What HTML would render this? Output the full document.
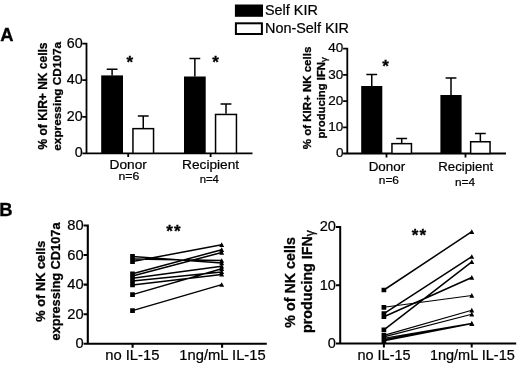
<!DOCTYPE html>
<html><head><meta charset="utf-8">
<style>
html,body{margin:0;padding:0;background:#fff;}
svg{display:block;}
text{font-family:"Liberation Sans",sans-serif;fill:#000;stroke:#000;stroke-width:0.22px;}
.bd{font-weight:bold;stroke-width:0.3px;}
path{stroke:#000;fill:none;}
.sh{stroke:none;fill:#000;}
</style></head><body>
<svg width="520" height="366" viewBox="0 0 520 366">
<rect width="520" height="366" fill="#fff"/>
<rect x="234.9" y="4.5" width="28.1" height="12.3" fill="#000"/>
<rect x="235.9" y="23.3" width="26" height="10.7" fill="#fff" stroke="#000" stroke-width="2"/>
<text x="265" y="14.8" font-size="14.4">Self KIR</text>
<text x="265" y="32.7" font-size="14.4">Non-Self KIR</text>
<text x="0.2" y="40.9" font-size="18.4" class="bd">A</text>
<text x="-0.8" y="216" font-size="18.4" class="bd">B</text>
<path d="M86.5 42.8V153.3H252.5M82.3 43.7H86.5M82.3 80.2H86.5M82.3 116.8H86.5M82.3 153.3H86.5M128.2 153.3V156.9M210.6 153.3V156.9" stroke-width="1.8"/>
<text x="82.6" y="47.7" font-size="14.3" text-anchor="end">60</text>
<text x="82.6" y="84.2" font-size="14.3" text-anchor="end">40</text>
<text x="82.6" y="120.8" font-size="14.3" text-anchor="end">20</text>
<text x="82.6" y="157.3" font-size="14.3" text-anchor="end">0</text>
<rect x="101.2" y="75.4" width="21.8" height="77.9" fill="#000"/>
<path d="M112.1 75.4V69.2M106.7 69.2H117.5" stroke-width="1.5"/>
<rect x="132.95" y="128.65" width="20.6" height="24.65" fill="#fff" stroke="#000" stroke-width="1.5"/>
<path d="M143.25 127.9V115.9M137.85 115.9H148.65" stroke-width="1.5"/>
<rect x="184" y="76.5" width="21.7" height="76.8" fill="#000"/>
<path d="M194.85 76.5V58.4M189.45 58.4H200.25" stroke-width="1.5"/>
<rect x="215.55" y="114.45" width="20.9" height="38.85" fill="#fff" stroke="#000" stroke-width="1.5"/>
<path d="M226 113.7V104M220.6 104H231.4" stroke-width="1.5"/>
<text x="129.8" y="67.6" font-size="17" text-anchor="middle" class="bd">*</text>
<text x="215.5" y="67.6" font-size="17" text-anchor="middle" class="bd">*</text>
<text x="128.25" y="168.6" font-size="13.7" text-anchor="middle">Donor</text>
<text x="210.6" y="168.6" font-size="13.7" text-anchor="middle">Recipient</text>
<text x="118.5" y="180.4" font-size="10" textLength="20.8" lengthAdjust="spacingAndGlyphs">n=6</text>
<text x="199.7" y="183.3" font-size="11" textLength="19.2" lengthAdjust="spacingAndGlyphs">n=4</text>
<text transform="translate(46.7,96) rotate(-90)" font-size="12" text-anchor="middle" class="bd">% of KIR+ NK cells</text>
<text transform="translate(61,96.3) rotate(-90)" font-size="11.8" text-anchor="middle" class="bd">expressing CD107a</text>
<path d="M347.3 47.8V153.5H506M343.1 48.7H347.3M343.1 74.9H347.3M343.1 101.1H347.3M343.1 127.3H347.3M343.1 153.5H347.3M386.5 153.5V157.5M465.5 153.5V157.5" stroke-width="1.8"/>
<text x="343.4" y="52.4" font-size="13.5" text-anchor="end">40</text>
<text x="343.4" y="78.6" font-size="13.5" text-anchor="end">30</text>
<text x="343.4" y="104.8" font-size="13.5" text-anchor="end">20</text>
<text x="343.4" y="131" font-size="13.5" text-anchor="end">10</text>
<text x="343.4" y="157.2" font-size="13.5" text-anchor="end">0</text>
<rect x="361.2" y="86" width="21.1" height="67.5" fill="#000"/>
<path d="M371.75 86V74.5M366.35 74.5H377.15" stroke-width="1.5"/>
<rect x="391.95" y="143.65" width="19.5" height="9.85" fill="#fff" stroke="#000" stroke-width="1.5"/>
<path d="M401.7 142.9V138.5M396.3 138.5H407.1" stroke-width="1.5"/>
<rect x="440.4" y="95" width="21.2" height="58.5" fill="#000"/>
<path d="M451 95V78M445.6 78H456.4" stroke-width="1.5"/>
<rect x="470.65" y="141.75" width="19.4" height="11.75" fill="#fff" stroke="#000" stroke-width="1.5"/>
<path d="M480.35 141V133.5M474.95 133.5H485.75" stroke-width="1.5"/>
<text x="385.6" y="71.9" font-size="17" text-anchor="middle" class="bd">*</text>
<text x="386.9" y="171.4" font-size="13.4" text-anchor="middle">Donor</text>
<text x="465.8" y="171.4" font-size="13.2" text-anchor="middle">Recipient</text>
<text x="378.8" y="183.7" font-size="11" textLength="20.2" lengthAdjust="spacingAndGlyphs">n=6</text>
<text x="455" y="185.7" font-size="10.5" textLength="20" lengthAdjust="spacingAndGlyphs">n=4</text>
<text transform="translate(310.7,98) rotate(-90)" font-size="11.5" text-anchor="middle" class="bd">% of KIR+ NK cells</text>
<text transform="translate(325.3,97.9) rotate(-90)" font-size="11.3" text-anchor="middle" class="bd">producing IFN<tspan font-size="9.5" font-weight="normal" dy="2">γ</tspan></text>
<path d="M87.8 224.45V343.8H266.8M83.6 225.5H87.8M83.6 255.07H87.8M83.6 284.65H87.8M83.6 314.23H87.8M83.6 343.8H87.8M132.6 343.8V347.8M222.1 343.8V347.8" stroke-width="2.1"/>
<text x="83.7" y="230" font-size="14.7" text-anchor="end">80</text>
<text x="83.7" y="259.57" font-size="14.7" text-anchor="end">60</text>
<text x="83.7" y="289.15" font-size="14.7" text-anchor="end">40</text>
<text x="83.7" y="318.73" font-size="14.7" text-anchor="end">20</text>
<text x="83.7" y="348.3" font-size="14.7" text-anchor="end">0</text>
<text x="132.35" y="360.1" font-size="14.8" text-anchor="middle">no IL-15</text>
<text x="222.5" y="360" font-size="14.75" text-anchor="middle">1ng/mL IL-15</text>
<text x="173.9" y="237.4" font-size="17" text-anchor="middle" class="bd" letter-spacing="1">**</text>
<text transform="translate(45.2,281.1) rotate(-90)" font-size="12.8" text-anchor="middle" class="bd">% of NK cells</text>
<text transform="translate(60,281.5) rotate(-90)" font-size="12.8" text-anchor="middle" class="bd">expressing CD107a</text>
<path d="M132.5 310.6L221.7 284.6M132.5 294.6L221.7 268.75M132.5 285L221.7 274.4M132.5 281L221.7 271.9M132.5 278.3L221.7 266.25M132.5 276L221.7 252.5M132.5 273.8L221.7 249.75M132.5 261.6L221.7 244.75M132.5 259L221.7 260.6M132.5 256.4L221.7 263" stroke-width="1.5"/>
<path class="sh" d="M130.15 308.25h4.7v4.7h-4.7zM221.7 282.15l2.45 4.66h-4.9zM130.15 292.25h4.7v4.7h-4.7zM221.7 266.3l2.45 4.66h-4.9zM130.15 282.65h4.7v4.7h-4.7zM221.7 271.95l2.45 4.66h-4.9zM130.15 278.65h4.7v4.7h-4.7zM221.7 269.45l2.45 4.66h-4.9zM130.15 275.95h4.7v4.7h-4.7zM221.7 263.8l2.45 4.66h-4.9zM130.15 273.65h4.7v4.7h-4.7zM221.7 250.05l2.45 4.66h-4.9zM130.15 271.45h4.7v4.7h-4.7zM221.7 247.3l2.45 4.66h-4.9zM130.15 259.25h4.7v4.7h-4.7zM221.7 242.3l2.45 4.66h-4.9zM130.15 256.65h4.7v4.7h-4.7zM221.7 258.15l2.45 4.66h-4.9zM130.15 254.05h4.7v4.7h-4.7zM221.7 260.55l2.45 4.66h-4.9z"/>
<path d="M340.2 226.1V343.4H516.2M336 227.1H340.2M336 285.25H340.2M336 343.4H340.2M383.9 343.4V347.4M471.7 343.4V347.4" stroke-width="2"/>
<text x="335.9" y="231.4" font-size="14.6" text-anchor="end">20</text>
<text x="335.9" y="289.55" font-size="14.6" text-anchor="end">10</text>
<text x="335.9" y="347.7" font-size="14.6" text-anchor="end">0</text>
<text x="384" y="359.6" font-size="14.5" text-anchor="middle">no IL-15</text>
<text x="472.35" y="359.6" font-size="14.5" text-anchor="middle">1ng/mL IL-15</text>
<text x="419.4" y="240.7" font-size="17" text-anchor="middle" class="bd" letter-spacing="1">**</text>
<text transform="translate(295,282.4) rotate(-90)" font-size="14.3" text-anchor="middle" class="bd">% of NK cells</text>
<text transform="translate(311.6,281.6) rotate(-90)" font-size="14.3" text-anchor="middle" class="bd">producing IFN<tspan font-size="12" font-weight="normal" dy="2">γ</tspan></text>
<path d="M383.9 290L471.8 231.7M383.9 313.6L471.8 256.6M383.9 316.7L471.8 277.5M383.9 329.8L471.8 261.9" stroke-width="1.5"/>
<path d="M383.9 307.3L471.8 295.5M383.9 335.4L471.8 310.2M383.9 336.9L471.8 314.2M383.9 338.3L471.8 323.2M383.9 339.6L471.8 323.5M383.9 340.9L471.8 323.8" stroke-width="1.15"/>
<path class="sh" d="M381.55 287.65h4.7v4.7h-4.7zM471.8 229.25l2.45 4.66h-4.9zM381.55 304.95h4.7v4.7h-4.7zM471.8 293.05l2.45 4.66h-4.9zM381.55 311.25h4.7v4.7h-4.7zM471.8 254.15l2.45 4.66h-4.9zM381.55 314.35h4.7v4.7h-4.7zM471.8 275.05l2.45 4.66h-4.9zM381.55 327.45h4.7v4.7h-4.7zM471.8 259.45l2.45 4.66h-4.9zM381.55 333.05h4.7v4.7h-4.7zM471.8 307.75l2.45 4.66h-4.9zM381.55 334.55h4.7v4.7h-4.7zM471.8 311.75l2.45 4.66h-4.9zM381.55 335.95h4.7v4.7h-4.7zM471.8 320.75l2.45 4.66h-4.9zM381.55 337.25h4.7v4.7h-4.7zM471.8 321.05l2.45 4.66h-4.9zM381.55 338.55h4.7v4.7h-4.7zM471.8 321.35l2.45 4.66h-4.9z"/>
</svg>
</body></html>
